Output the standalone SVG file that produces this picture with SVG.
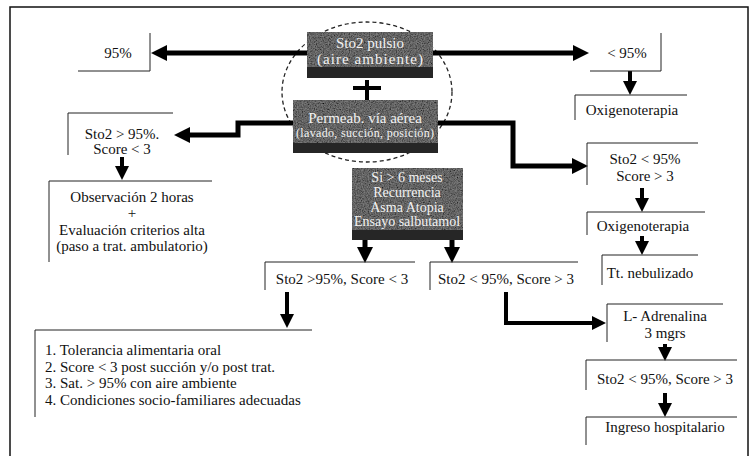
<svg xmlns="http://www.w3.org/2000/svg" width="752" height="456" viewBox="0 0 752 456">
<style>
  text { font-family: "Liberation Serif", "Times New Roman", serif; fill: #111; font-size: 15px; }
  .c { text-anchor: middle; }
  .g { fill: #f2f2f2; text-anchor: middle; font-size: 14px; }
  .box { fill: none; stroke: #222; stroke-width: 1; }
  .gray { fill: #7a7a7a; }
  .band { fill: #262626; }
  .arr { fill: none; stroke: #000; stroke-linejoin: miter; }
  .w5 { stroke-width: 5; }
  .w4 { stroke-width: 4; }
</style>
<defs>
  <marker id="ah" viewBox="0 0 10 10" markerUnits="userSpaceOnUse" markerWidth="16" markerHeight="16" refX="0" refY="5" orient="auto">
    <path d="M0,0 L10,5 L0,10 z" fill="#000"/>
  </marker>
  <marker id="ahs" viewBox="0 0 10 10" markerUnits="userSpaceOnUse" markerWidth="14" markerHeight="15" refX="0" refY="5" orient="auto">
    <path d="M0,0 L10,5 L0,10 z" fill="#000"/>
  </marker>
  <filter id="grain" x="0" y="0" width="1" height="1">
    <feTurbulence type="fractalNoise" baseFrequency="0.85" numOctaves="2" seed="3" result="n"/>
    <feColorMatrix in="n" type="matrix" values="0 0 0 0 0  0 0 0 0 0  0 0 0 0 0  1.6 0 0 0 -0.45" result="dots"/>
    <feComposite in="dots" in2="SourceGraphic" operator="in" result="d2"/>
    <feMerge><feMergeNode in="SourceGraphic"/><feMergeNode in="d2"/></feMerge>
  </filter>
</defs>

<!-- frame -->
<rect x="10" y="7" width="738" height="460" fill="none" stroke="#111" stroke-width="1.5"/>

<!-- dashed circle -->
<ellipse cx="367" cy="92" rx="85" ry="70" fill="none" stroke="#222" stroke-width="1.3" stroke-dasharray="4 3"/>

<g id="connectors">
  <path class="arr w5" d="M307,53 H167" marker-end="url(#ah)"/>
  <path class="arr w5" d="M433,53 H573" marker-end="url(#ah)"/>
  <path class="arr w4" d="M630,71 V81" marker-end="url(#ahs)"/>
  <path class="arr w5" d="M293,123 H238 V135 H190" marker-end="url(#ah)"/>
  <path class="arr w4" d="M122,157 V166" marker-end="url(#ahs)"/>
  <path class="arr w5" d="M438,123 H513 V166 H572" marker-end="url(#ah)"/>
  <path class="arr w4" d="M642,188 V198" marker-end="url(#ahs)"/>
  <path class="arr w4" d="M642,236 V241" marker-end="url(#ahs)"/>
  <path class="arr w5" d="M365,236 V247" marker-end="url(#ah)"/>
  <path class="arr w5" d="M452,236 V247" marker-end="url(#ah)"/>
  <path class="arr w4" d="M287,292 V314" marker-end="url(#ahs)"/>
  <path class="arr w4" d="M506,292 V323 H592" marker-end="url(#ahs)"/>
  <path class="arr w4" d="M665,344 V347" marker-end="url(#ahs)"/>
  <path class="arr w4" d="M665,393 V403" marker-end="url(#ahs)"/>
  <!-- plus sign -->
  <rect x="365" y="80" width="4" height="20" fill="#000"/>
  <rect x="353" y="86" width="28" height="4" fill="#000"/>
</g>

<g id="n-sto2pulsio">
  <rect class="gray" x="307" y="32" width="126" height="46" filter="url(#grain)"/>
  <rect class="band" x="307" y="67" width="126" height="11"/>
  <text class="g" x="370" y="48" style="font-size:15px">Sto2 pulsio</text>
  <text class="g" x="370" y="64" style="font-size:15px" textLength="106" lengthAdjust="spacing">(aire ambiente)</text>
</g>

<g id="n-permeab">
  <rect class="gray" x="293" y="100" width="145" height="53" filter="url(#grain)"/>
  <rect class="band" x="293" y="143" width="145" height="10"/>
  <text class="g" x="365" y="123" style="font-size:15px">Permeab. vía aérea</text>
  <text class="g" x="365" y="137" style="font-size:12px" textLength="138" lengthAdjust="spacing">(lavado, succión, posición)</text>
</g>

<g id="n-score">
  <rect class="gray" x="352" y="168" width="111" height="72" filter="url(#grain)"/>
  <rect class="band" x="352" y="230" width="111" height="10"/>
  <text class="g" x="407" y="182">Si &gt; 6 meses</text>
  <text class="g" x="407" y="197">Recurrencia</text>
  <text class="g" x="407" y="212">Asma Atopia</text>
  <text class="g" x="407" y="226">Ensayo salbutamol</text>
</g>

<g id="n-95">
  <path class="box" d="M78,71 H150 V33"/>
  <text class="c" x="118" y="58">95%</text>
</g>

<g id="n-lt95">
  <path class="box" d="M590,71 H661 V33"/>
  <text class="c" x="627" y="58">&lt; 95%</text>
</g>

<g id="n-oxi1">
  <path class="box" d="M687,95 H575 V120"/>
  <text class="c" x="632" y="115">Oxigenoterapia</text>
</g>

<g id="n-sto2gt95-left">
  <path class="box" d="M173,113 H68 V155"/>
  <text class="c" x="122" y="139">Sto2 &gt; 95%.</text>
  <text class="c" x="122" y="154">Score &lt; 3</text>
</g>

<g id="n-observacion">
  <path class="box" d="M212,181 H49 V262"/>
  <text class="c" x="132" y="202">Observación 2 horas</text>
  <text class="c" x="132" y="218">+</text>
  <text class="c" x="132" y="235">Evaluación criterios alta</text>
  <text class="c" x="132" y="251">(paso a trat. ambulatorio)</text>
</g>

<g id="n-sto2lt95-right">
  <path class="box" d="M698,143 H587 V185"/>
  <text class="c" x="645" y="164">Sto2 &lt; 95%</text>
  <text class="c" x="645" y="181">Score &gt; 3</text>
</g>

<g id="n-oxi2">
  <path class="box" d="M705,212 H587 V235"/>
  <text class="c" x="643" y="231">Oxigenoterapia</text>
</g>

<g id="n-nebulizado">
  <path class="box" d="M698,255 H602 V285"/>
  <text class="c" x="650" y="278">Tt. nebulizado</text>
</g>

<g id="n-mid-left">
  <path class="box" d="M415,262 H265 V290"/>
  <text class="c" x="342" y="284">Sto2 &gt;95%, Score &lt; 3</text>
</g>

<g id="n-mid-right">
  <path class="box" d="M578,262 H430 V290"/>
  <text class="c" x="506" y="284">Sto2 &lt; 95%, Score &gt; 3</text>
</g>

<g id="n-criterios">
  <path class="box" d="M312,330 H35 V417"/>
  <text x="45" y="355">1. Tolerancia alimentaria oral</text>
  <text x="45" y="372">2. Score &lt; 3 post succión y/o post trat.</text>
  <text x="45" y="388">3. Sat. &gt; 95% con aire ambiente</text>
  <text x="45" y="405">4. Condiciones socio-familiares adecuadas</text>
</g>

<g id="n-adrenalina">
  <path class="box" d="M723,304 H607 V342"/>
  <text class="c" x="665" y="321">L- Adrenalina</text>
  <text class="c" x="665" y="338">3 mgrs</text>
</g>

<g id="n-sto2-bottom">
  <path class="box" d="M737,360 H586 V390"/>
  <text class="c" x="665" y="384">Sto2 &lt; 95%, Score &gt; 3</text>
</g>

<g id="n-ingreso">
  <path class="box" d="M737,417 H586 V445"/>
  <text class="c" x="665" y="432">Ingreso hospitalario</text>
</g>
</svg>
